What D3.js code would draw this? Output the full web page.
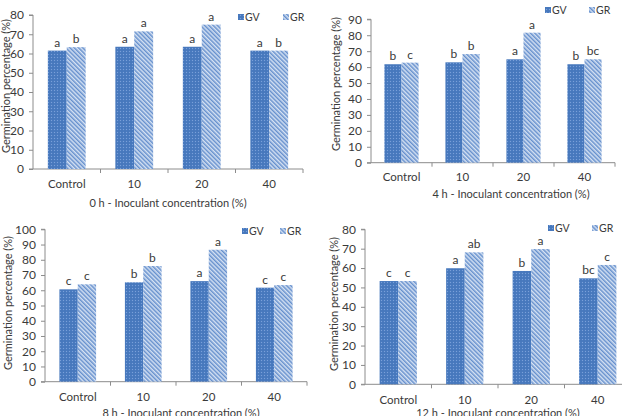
<!DOCTYPE html>
<html><head><meta charset="utf-8">
<script src="https://cdn.jsdelivr.net/npm/d3@7"></script>
<style>
html,body{margin:0;padding:0;background:#fff;}
svg{display:block;font-family:Lato,"Open Sans",sans-serif;}
</style></head>
<body>
<svg id="chart" width="622" height="416"></svg>
<script>
// ---- data ----
const categories = ["Control", "10", "20", "40"];
const seriesNames = ["GV", "GR"];
const gv0h = [61.5, 63.5, 63.5, 61.5];
const gr0h = [63.3, 71.5, 75.0, 61.5];
const gv4h = [61.8, 63.0, 64.9, 61.8];
const gr4h = [62.8, 68.2, 81.6, 64.9];
const gv8h = [60.6, 65.2, 66.0, 61.7];
const gr8h = [63.9, 75.9, 86.6, 63.4];
const gv12h = [53.3, 59.9, 58.5, 54.7];
const gr12h = [53.3, 68.1, 69.8, 61.6];
const gvLetters0h = ["a", "a", "a", "a"];
const grLetters0h = ["b", "a", "a", "b"];
const gvLetters4h = ["b", "b", "a", "b"];
const grLetters4h = ["c", "b", "a", "bc"];
const gvLetters8h = ["c", "b", "a", "c"];
const grLetters8h = ["c", "b", "a", "c"];
const gvLetters12h = ["c", "a", "b", "bc"];
const grLetters12h = ["c", "ab", "a", "c"];
const yMaxes = [80, 90, 100, 80];
const xTitles = ["0 h - Inoculant concentration (%)", "4 h - Inoculant concentration (%)",
                 "8 h - Inoculant concentration (%)", "12 h - Inoculant concentration (%)"];
const yTitle = "Germination percentage (%)";

// ---- layout (positions only) ----
const layouts = [
  {x0: 33, x1: 303, yT: 15, yB: 169, catY: 188, titleX: 168, titleY: 207, legY: 17, legGV: 238, legGR: 283, yTitleX: 6, yTitleY: 86},
  {x0: 371, x1: 615, yT: 19.3, yB: 162.7, catY: 181, titleX: 511, titleY: 198, legY: 10, legGV: 545, legGR: 589, yTitleX: 336, yTitleY: 84},
  {x0: 45, x1: 307, yT: 229.3, yB: 381.7, catY: 400.5, titleX: 181, titleY: 417, legY: 231, legGV: 242, legGR: 280, yTitleX: 8, yTitleY: 303},
  {x0: 365, x1: 631, yT: 229.3, yB: 384.3, catY: 403.5, titleX: 498, titleY: 417, legY: 228, legGV: 548, legGR: 592, yTitleX: 334, yTitleY: 304}
];

const panels = [
  {gv: gv0h, gr: gr0h, gvL: gvLetters0h, grL: grLetters0h},
  {gv: gv4h, gr: gr4h, gvL: gvLetters4h, grL: grLetters4h},
  {gv: gv8h, gr: gr8h, gvL: gvLetters8h, grL: grLetters8h},
  {gv: gv12h, gr: gr12h, gvL: gvLetters12h, grL: grLetters12h}
];

const svg = d3.select("#chart");
const defs = svg.append("defs");
const pGV = defs.append("pattern").attr("id", "pGV").attr("width", 3).attr("height", 3)
  .attr("patternUnits", "userSpaceOnUse");
pGV.append("rect").attr("width", 3).attr("height", 3).attr("fill", "#4a7bc0");
pGV.append("rect").attr("width", 1).attr("height", 1).attr("fill", "#7aa0d8");
pGV.append("rect").attr("x", 1.5).attr("y", 1.5).attr("width", 1).attr("height", 1).attr("fill", "#3f6fb3");
const pGR = defs.append("pattern").attr("id", "pGR").attr("width", 3).attr("height", 3)
  .attr("patternUnits", "userSpaceOnUse").attr("patternTransform", "rotate(-45)");
pGR.append("rect").attr("width", 3).attr("height", 3).attr("fill", "#d6e2f3");
pGR.append("rect").attr("width", 1.5).attr("height", 3).attr("fill", "#6690cd");

const fills = {GV: "url(#pGV)", GR: "url(#pGR)"};
const axisColor = "#8c8c8c";
const textColor = "#3a3a3a";

panels.forEach((p, i) => {
  const L = layouts[i];
  const g = svg.append("g");
  const x = d3.scaleBand().domain(categories).range([L.x0, L.x1]).padding(0);
  const xi = d3.scaleBand().domain(seriesNames)
    .range([x.bandwidth() * 0.22, x.bandwidth() * 0.78]).padding(0);
  const y = d3.scaleLinear().domain([0, yMaxes[i]]).range([L.yB, L.yT]);

  // y axis
  const yAxis = d3.axisLeft(y).ticks(yMaxes[i] / 10).tickSize(4).tickPadding(5);
  const ya = g.append("g").attr("transform", `translate(${L.x0},0)`).call(yAxis);
  ya.select(".domain").attr("stroke", axisColor).attr("d", `M-4,${L.yT}H0V${L.yB}`);
  ya.selectAll(".tick line").attr("stroke", axisColor);
  ya.selectAll(".tick text").attr("fill", textColor).style("font-size", "12px")
    .style("font-family", "Lato, sans-serif");

  // x axis
  const xa = g.append("g").attr("transform", `translate(0,${L.yB})`);
  xa.append("line").attr("x1", L.x0 - 4).attr("x2", L.x1).attr("stroke", axisColor);
  categories.forEach(c => {
    xa.append("line").attr("x1", x(c) + x.bandwidth()).attr("x2", x(c) + x.bandwidth())
      .attr("y1", 0).attr("y2", 4).attr("stroke", axisColor);
  });
  g.selectAll(".cat").data(categories).enter().append("text")
    .attr("x", c => x(c) + x.bandwidth() / 2).attr("y", L.catY)
    .attr("text-anchor", "middle").attr("fill", textColor)
    .style("font-size", "11.5px").text(c => c);

  // bars
  const rows = [];
  categories.forEach((c, k) => {
    rows.push({cat: c, s: "GV", v: p.gv[k], l: p.gvL[k]});
    rows.push({cat: c, s: "GR", v: p.gr[k], l: p.grL[k]});
  });
  g.selectAll(".bar").data(rows).enter().append("rect")
    .attr("x", d => x(d.cat) + xi(d.s)).attr("width", xi.bandwidth())
    .attr("y", d => y(d.v)).attr("height", d => y(0) - y(d.v))
    .attr("fill", d => fills[d.s]);
  g.selectAll(".lbl").data(rows).enter().append("text")
    .attr("x", d => x(d.cat) + xi(d.s) + xi.bandwidth() / 2).attr("y", d => y(d.v) - 4)
    .attr("text-anchor", "middle").attr("fill", textColor)
    .style("font-size", "12px").text(d => d.l);

  // titles
  g.append("text").attr("x", L.titleX).attr("y", L.titleY).attr("text-anchor", "middle")
    .attr("fill", textColor).style("font-size", "11px").text(xTitles[i]);
  g.append("text").attr("transform", `translate(${L.yTitleX},${L.yTitleY}) rotate(-90)`)
    .attr("text-anchor", "middle").attr("dy", "0.35em").attr("fill", textColor)
    .style("font-size", "11px").text(yTitle);

  // legend
  [["GV", L.legGV], ["GR", L.legGR]].forEach(([s, lx]) => {
    g.append("rect").attr("x", lx).attr("y", L.legY - 3).attr("width", 6).attr("height", 6)
      .attr("fill", fills[s]);
    g.append("text").attr("x", lx + 7).attr("y", L.legY).attr("dy", "0.35em")
      .attr("fill", textColor).style("font-size", "10.5px").text(s);
  });
});
</script>
</body></html>
